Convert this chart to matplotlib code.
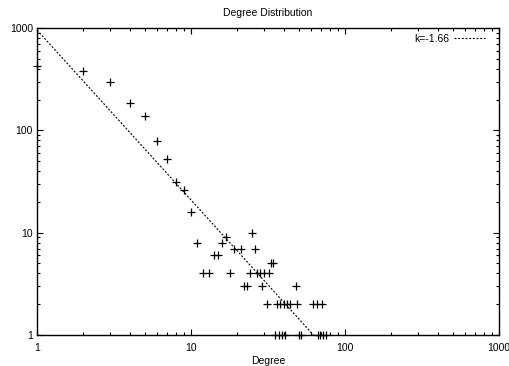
import matplotlib
matplotlib.use("Agg")
import matplotlib.pyplot as plt
import numpy as np
from matplotlib.ticker import LogLocator, FixedLocator, NullFormatter

plt.rcParams['font.family'] = ['Liberation Sans', 'DejaVu Sans']

degree = [1, 2, 3, 4, 5, 6, 7, 8, 9, 10, 11, 12, 13, 14, 15, 16, 17, 18, 19,
          21, 22, 23, 24, 25, 26, 27, 28, 29, 30, 31, 32, 33, 34,
          35, 36, 37, 38, 39, 40, 41, 42, 44, 48, 49, 50, 52, 62, 66, 67, 69, 71, 72, 75]
count = [430, 380, 300, 186, 138, 78, 52, 31, 26, 16, 8, 4, 4, 6, 6, 8, 9, 4, 7,
         7, 3, 3, 4, 10, 7, 4, 4, 3, 4, 2, 4, 5, 5,
         1, 2, 1, 2, 1, 2, 1, 2, 2, 3, 2, 1, 1, 2, 2, 1, 1, 2, 1, 1]

fit_k = -1.66
fit_amp = 955.0
fit_label = "k=-1.66"

title = "Degree Distribution"
xlabel = "Degree"
xticks = [1, 10, 100, 1000]
yticks = [1, 10, 100, 1000]

fig = plt.figure(figsize=(5.10, 3.66), dpi=100)
ax = fig.add_axes([37/510, 1-335/366, (499-37)/510, (335-28)/366])

ax.plot(degree, count, linestyle='none', marker='+', color='black',
        markersize=5.5, markeredgewidth=0.9, clip_on=False, zorder=3)

xf = np.logspace(0, 3, 400)
ax.plot(xf, fit_amp * xf ** fit_k, color='black', linewidth=0.8,
        dashes=(1.8, 1.5), label=fit_label)

ax.set_xscale('log')
ax.set_yscale('log')
ax.set_xlim(1, 1000)
ax.set_ylim(1, 1000)

ax.xaxis.set_major_locator(FixedLocator(xticks))
ax.yaxis.set_major_locator(FixedLocator(yticks))
ax.set_xticklabels([str(t) for t in xticks])
ax.set_yticklabels([str(t) for t in yticks])
ax.xaxis.set_minor_locator(LogLocator(base=10, subs=np.arange(2, 10)))
ax.yaxis.set_minor_locator(LogLocator(base=10, subs=np.arange(2, 10)))
ax.xaxis.set_minor_formatter(NullFormatter())
ax.yaxis.set_minor_formatter(NullFormatter())

ax.tick_params(which='both', direction='in', top=True, right=True,
               labelsize=7.5, colors='black', width=0.8)
ax.tick_params(which='major', length=4.5)
ax.tick_params(axis='x', which='major', pad=6)
ax.tick_params(axis='y', which='major', pad=3)
ax.tick_params(which='minor', length=2.5)
for s in ax.spines.values():
    s.set_linewidth(1.0)
    s.set_color('black')

ax.set_title(title, fontsize=7.5, pad=9)
ax.set_xlabel(xlabel, fontsize=7.5, labelpad=2)

leg = ax.legend(loc='upper right', bbox_to_anchor=(0.97, 0.98), frameon=False,
                fontsize=7.5, handlelength=3.0, handletextpad=0.4,
                borderaxespad=0, borderpad=0, markerfirst=False)

fig.savefig("out.png", dpi=100)
